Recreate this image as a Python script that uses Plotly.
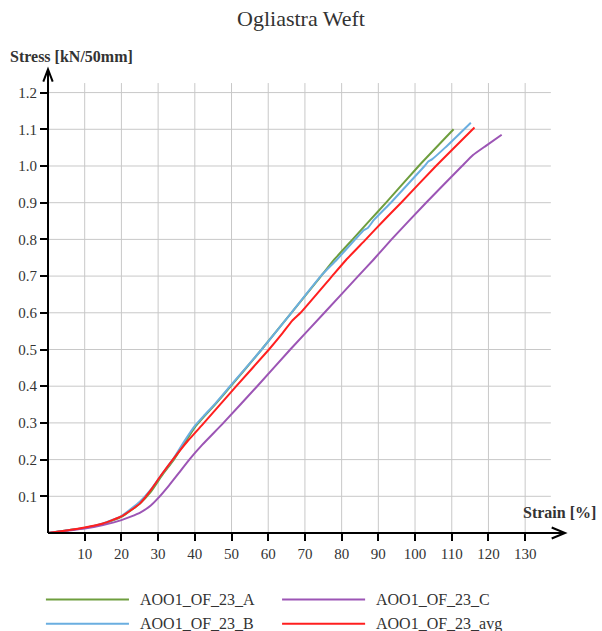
import plotly.graph_objects as go

# Tensile test curves, Ogliastra fabric, weft direction
strain_a = [0, 5, 10, 15, 20, 25, 28, 31, 34.3, 37.2, 40, 42.5, 45.5, 49.8, 58.2, 66.3, 74.4, 77.9, 83.0, 87.8, 92.1, 101.0, 110.5]
stress_a = [0, 0.007, 0.014, 0.025, 0.044, 0.080, 0.112, 0.156, 0.200, 0.245, 0.288, 0.317, 0.350, 0.400, 0.500, 0.600, 0.700, 0.744, 0.800, 0.853, 0.900, 1.000, 1.100]

strain_b = [0, 5, 10, 15, 20, 25, 28, 31, 34, 37, 40, 42.5, 45.5, 49.6, 58.2, 62.5, 66.3, 74.3, 78.6, 83.7, 86.0, 87.2, 88.8, 93.4, 102.6, 103.6, 104.6, 108.2, 115.2]
stress_b = [0, 0.007, 0.014, 0.026, 0.046, 0.085, 0.118, 0.160, 0.200, 0.248, 0.292, 0.320, 0.352, 0.400, 0.500, 0.553, 0.600, 0.700, 0.744, 0.800, 0.825, 0.832, 0.853, 0.900, 1.000, 1.012, 1.018, 1.050, 1.118]

strain_c = [0, 5, 10, 15, 20, 25, 28, 30, 33, 36, 38.5, 42, 47.8, 57.0, 66.0, 75.3, 84.5, 88.6, 93.6, 103.0, 112.8, 115.8, 119.3, 123.6]
stress_c = [0, 0.006, 0.012, 0.022, 0.035, 0.055, 0.075, 0.095, 0.130, 0.168, 0.200, 0.240, 0.300, 0.400, 0.500, 0.600, 0.700, 0.744, 0.800, 0.900, 1.000, 1.030, 1.055, 1.085]

strain_avg = [0, 5, 10, 15, 20, 25, 28, 31, 34, 38, 42.5, 51.3, 60.2, 64.0, 66.5, 68.8, 77.4, 81.2, 86.6, 91.6, 96.2, 105.7, 116.2]
stress_avg = [0, 0.007, 0.015, 0.026, 0.045, 0.080, 0.117, 0.160, 0.200, 0.250, 0.300, 0.400, 0.500, 0.546, 0.578, 0.600, 0.700, 0.744, 0.800, 0.853, 0.900, 1.000, 1.105]

series = [
    ("AOO1_OF_23_A", strain_a, stress_a, "#6e9e3e"),
    ("AOO1_OF_23_B", strain_b, stress_b, "#6aaee0"),
    ("AOO1_OF_23_C", strain_c, stress_c, "#9c55b5"),
    ("AOO1_OF_23_avg", strain_avg, stress_avg, "#ff1f1f"),
]

x_ticks = [10, 20, 30, 40, 50, 60, 70, 80, 90, 100, 110, 120, 130]
y_ticks = [0.1, 0.2, 0.3, 0.4, 0.5, 0.6, 0.7, 0.8, 0.9, 1.0, 1.1, 1.2]
y_tick_text = ["0.1", "0.2", "0.3", "0.4", "0.5", "0.6", "0.7", "0.8", "0.9", "1.0", "1.1", "1.2"]

X_MAX, Y_MAX = 141.4, 1.267
GRID_X_END, GRID_Y_END = 137.0, 1.226
SERIF = "Liberation Serif"
TEXT = "#333333"

# plot area in pixels, used to place the axis arrows in paper units
PLOT_W, PLOT_H = 519.0, 465.0

fig = go.Figure()
for name, xs, ys, color in series:
    fig.add_trace(go.Scatter(x=xs, y=ys, mode="lines", name=name,
                             line=dict(color=color, width=2, shape="spline", smoothing=0.4),
                             showlegend=False))

shapes = []
grid = dict(color="#c8c8c8", width=1)
for v in x_ticks:
    shapes.append(dict(type="line", xref="x", yref="y", x0=v, x1=v, y0=0, y1=GRID_Y_END,
                       line=grid, layer="below"))
for v in y_ticks:
    shapes.append(dict(type="line", xref="x", yref="y", x0=0, x1=GRID_X_END, y0=v, y1=v,
                       line=grid, layer="below"))

# axes with open arrow heads (paper units so nothing is clipped)
axis = dict(color="black", width=2)
tip_x = 517.0 / PLOT_W
tip_y = 463.7 / PLOT_H
arm_dx, arm_sx = 13.3 / PLOT_W, 5.5 / PLOT_H
arm_dy, arm_sy = 12.4 / PLOT_H, 4.7 / PLOT_W
shapes.append(dict(type="line", xref="paper", yref="paper", x0=0, x1=tip_x, y0=0, y1=0, line=axis))
shapes.append(dict(type="line", xref="paper", yref="paper", x0=0, x1=0, y0=0, y1=tip_y, line=axis))
shapes.append(dict(type="path", xref="paper", yref="paper",
                   path=f"M {tip_x - arm_dx} {arm_sx} L {tip_x} 0 L {tip_x - arm_dx} {-arm_sx}",
                   line=axis))
shapes.append(dict(type="path", xref="paper", yref="paper",
                   path=f"M {-arm_sy} {tip_y - arm_dy} L 0 {tip_y} L {arm_sy} {tip_y - arm_dy}",
                   line=axis))

# legend drawn as two columns below the plot
annotations = []
leg_cols = [(-0.004, 0.156, 0.173), (0.451, 0.611, 0.628)]
leg_rows = [-0.143, -0.195]
leg_layout = [(0, 0), (0, 1), (1, 0), (1, 1)]
for (name, _, _, color), (c, r) in zip(series, leg_layout):
    x0, x1, xt = leg_cols[c]
    y = leg_rows[r]
    shapes.append(dict(type="line", xref="paper", yref="paper", x0=x0, x1=x1, y0=y, y1=y,
                       line=dict(color=color, width=2)))
    annotations.append(dict(xref="paper", yref="paper", x=xt, y=y, text=name, showarrow=False,
                            xanchor="left", yanchor="middle",
                            font=dict(family=SERIF, size=16, color=TEXT)))

annotations.append(dict(xref="paper", yref="paper", x=-0.077, y=1.024, text="<b>Stress [kN/50mm]</b>",
                        showarrow=False, xanchor="left", yanchor="middle",
                        font=dict(family=SERIF, size=16, color=TEXT)))
annotations.append(dict(xref="paper", yref="paper", x=1.06, y=0.045, text="<b>Strain [%]</b>",
                        showarrow=False, xanchor="right", yanchor="middle",
                        font=dict(family=SERIF, size=16, color=TEXT)))

fig.update_layout(
    width=602, height=631,
    margin=dict(l=48, r=35, t=68, b=98),
    paper_bgcolor="white", plot_bgcolor="white",
    title=dict(text="Ogliastra Weft", x=0.5, xanchor="center", y=0.971, yanchor="middle",
               font=dict(family=SERIF, size=22, color=TEXT)),
    xaxis=dict(range=[0, X_MAX], showgrid=False, zeroline=False, showline=False,
               tickvals=x_ticks, ticks="outside", ticklen=7, tickwidth=2, tickcolor="black",
               tickfont=dict(family=SERIF, size=15, color=TEXT)),
    yaxis=dict(range=[0, Y_MAX], showgrid=False, zeroline=False, showline=False,
               tickvals=y_ticks, ticktext=y_tick_text, ticks="outside", ticklen=7, tickwidth=2,
               tickcolor="black", tickfont=dict(family=SERIF, size=15, color=TEXT)),
    shapes=shapes,
    annotations=annotations,
)

fig.write_html("out.html")
